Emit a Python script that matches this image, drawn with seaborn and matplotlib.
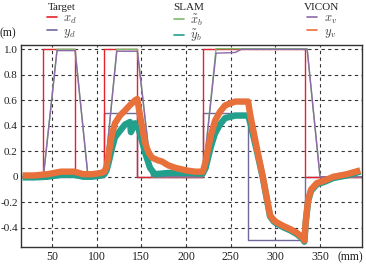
import numpy as np
import pandas as pd
import matplotlib
matplotlib.use("Agg")
import matplotlib.pyplot as plt
from matplotlib.lines import Line2D
import seaborn as sns

# ---- data ----
xd_t = [15, 40.3, 40.3, 75.8, 75.8, 108.6, 108.6, 145.5, 145.5, 218.8, 218.8, 333.3, 333.3, 397]
xd_v = [0, 0, 1, 1, 0, 0, 1, 1, 0, 0, 1, 1, 0, 0]

yd_t = [15, 108.6, 108.6, 145.5, 145.5, 218.8, 218.8, 269.5, 269.5, 333.3, 333.3, 397]
yd_v = [0, 0, 0.5, 0.5, 0, 0, 0.5, 0.5, -0.5, -0.5, 0, 0]

xv_t = [15, 40.3, 55.6, 75.8, 90.3, 108.6, 122.5, 145.5, 161.6, 218.8, 233.6, 255, 262, 335.6, 350, 397]
xv_v = [0, 0, 0.99, 0.99, 0, 0, 0.985, 0.985, 0, 0, 0.97, 0.975, 1.0, 1.0, 0, 0]

xb_t = [15, 40.3, 55.6, 75.8, 90.3, 108.6, 122.5, 145.5, 161.6, 218.8, 233.6, 262, 335.6, 350, 397]
xb_v = [0, 0, 1.0, 1.0, 0, 0, 1.0, 1.0, 0, 0, 1.005, 1.005, 1.005, 0, 0]

yv_t = [17, 30, 45, 60, 75, 85, 95, 105, 108.6, 111, 113, 117, 120.5, 126, 131.7, 137, 143, 145.5,
        148, 154, 158, 162, 168, 173, 180, 188, 200, 210, 218.8, 222, 224.7, 228, 232.5, 238, 243.7,
        255, 269.5, 272, 280, 286, 290, 294, 298, 302, 310, 316.5, 324, 331, 332.5, 334, 336.7, 340,
        346.4, 355, 365, 380, 395]
yv_v = [0.01, 0.01, 0.02, 0.04, 0.04, 0.02, 0.02, 0.03, 0.04, 0.08, 0.16, 0.33, 0.42, 0.48, 0.52,
        0.56, 0.60, 0.61, 0.50, 0.27, 0.19, 0.15, 0.13, 0.12, 0.09, 0.07, 0.05, 0.04, 0.04, 0.12,
        0.22, 0.33, 0.44, 0.51, 0.56, 0.59, 0.59, 0.48, 0.20, 0.0, -0.15, -0.30, -0.34, -0.36, -0.39,
        -0.41, -0.44, -0.48, -0.50, -0.35, -0.18, -0.10, -0.05, -0.03, 0.0, 0.02, 0.05]

yb_t = [17, 30, 45, 60, 75, 85, 95, 105, 108.6, 111, 113, 117, 120.5, 126, 131.7, 137.3, 138.3,
        142.9, 146.7, 150, 154.1, 159.7, 165, 180, 200, 218.8, 222, 224.7, 228, 232.5, 238, 243.7,
        255, 269.5, 272, 280, 286, 290, 294, 298, 302, 310, 316.5, 324, 331, 332.5, 334, 336.7, 340,
        346.4, 355, 365, 380, 395]
yb_v = [-0.005, -0.005, 0.0, 0.015, 0.015, 0.0, 0.0, 0.01, 0.02, 0.05, 0.10, 0.22, 0.31, 0.36, 0.41,
        0.43, 0.35, 0.42, 0.38, 0.30, 0.19, 0.07, 0.02, 0.03, 0.03, 0.025, 0.07, 0.15, 0.24, 0.34,
        0.41, 0.46, 0.48, 0.48, 0.42, 0.18, -0.01, -0.16, -0.31, -0.35, -0.37, -0.40,
        -0.42, -0.45, -0.49, -0.51, -0.36, -0.19, -0.11, -0.06, -0.04, -0.01, 0.01, 0.04]

x_ticks = [50, 100, 150, 200, 250, 300, 350]
x_ticklabels = ["50", "100", "150", "200", "250", "300", "350"]
y_ticks = [1.0, 0.8, 0.6, 0.4, 0.2, 0.0, -0.2, -0.4]
y_ticklabels = ["1.0", "0.8", "0.6", "0.4", "0.2", "0", "-0.2", "-0.4"]

# ---- style ----
sns.set_style("white")
plt.rcParams["font.family"] = ["Liberation Serif", "DejaVu Serif"]
plt.rcParams["mathtext.fontset"] = "cm"

fig = plt.figure(figsize=(3.66, 2.65), dpi=100)
ax = fig.add_axes([20.5 / 366, 1 - 246.7 / 265, (362 - 20.5) / 366, (246.7 - 45) / 265])

C_XD = "#e4222b"
C_YD = "#6e6a9c"
C_XB = "#7dbb6e"
C_YB = "#23a08c"
C_XV = "#8c6aa8"
C_YV = "#e8703a"

def line(t, v, color, lw, label, z):
    df = pd.DataFrame({"t": t, "v": v})
    sns.lineplot(data=df, x="t", y="v", ax=ax, color=color, lw=lw, label=label,
                 sort=False, estimator=None, zorder=z, legend=False)
    l = ax.get_lines()[-1]
    l.set_solid_joinstyle("round")
    l.set_solid_capstyle("butt")
    return l

h_yd = line(yd_t, yd_v, C_YD, 1.0, r"$y_d$", 2)
h_xd = line(xd_t, xd_v, C_XD, 1.0, r"$x_d$", 2.1)
h_xv = line(xv_t, xv_v, C_XV, 1.0, r"$x_v$", 2.2)
h_xb = line(xb_t, xb_v, C_XB, 1.0, r"$\tilde{x}_b$", 2.15)
h_yb = line(yb_t, yb_v, C_YB, 4.6, r"$\tilde{y}_b$", 3)
h_yv = line(yv_t, yv_v, C_YV, 4.6, r"$y_v$", 4)

ax.set_xlim(14.7, 397)
ax.set_ylim(-0.549, 1.034)
ax.set_xticks(x_ticks)
ax.set_xticklabels(x_ticklabels)
ax.set_yticks(y_ticks)
ax.set_yticklabels(y_ticklabels)
ax.set_xlabel("")
ax.set_ylabel("")
ax.tick_params(length=0, labelsize=8.5, colors="#222222")
ax.tick_params(axis="x", pad=3)
ax.tick_params(axis="y", pad=2, labelsize=8)
ax.grid(True, linestyle=(0, (3, 3)), color="#333333", lw=0.8)
ax.set_axisbelow(True)
for s in ax.spines.values():
    s.set_color("#333333")
    s.set_linewidth(1.0)

fig.text(337 / 366, 1 - 257 / 265, "(mm)", fontsize=8.5, va="center", ha="left", color="#222222")
fig.text(0 / 366, 1 - 33 / 265, "(m)", fontsize=8.5, va="center", ha="left", color="#222222")

groups = [("Target", [h_xd, h_yd], 62), ("SLAM", [h_xb, h_yb], 189), ("VICON", [h_xv, h_yv], 322)]
for title, hs, xc in groups:
    handles = [Line2D([], [], color=h.get_color(), lw=1.2) for h in hs]
    leg = fig.legend(handles=handles, labels=[h.get_label() for h in hs], title=title,
                     loc="upper center", bbox_to_anchor=(xc / 366, 1.02), frameon=False,
                     fontsize=9, title_fontsize=8, handlelength=0.8, handletextpad=0.5,
                     labelspacing=0.0, borderpad=0.2)
    for t in leg.get_texts():
        t.set_color("#444444")
    leg.get_title().set_color("#222222")

fig.savefig("out.png", dpi=100)
